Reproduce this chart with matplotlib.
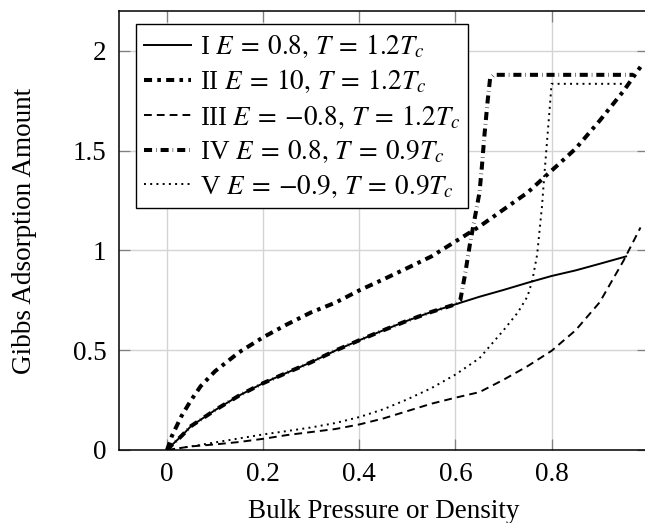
import matplotlib
matplotlib.use("Agg")
import matplotlib.pyplot as plt

plt.rcParams['font.family'] = ['Liberation Serif', 'DejaVu Serif']
plt.rcParams['mathtext.fontset'] = 'stix'

# Đường I: E = 0.8, T = 1.2Tc
x_1 = [0, 0.01, 0.03, 0.05, 0.1, 0.15, 0.2, 0.25, 0.3, 0.35, 0.4, 0.45, 0.5,
       0.55, 0.6, 0.65, 0.7, 0.75, 0.8, 0.85, 0.9, 0.955]
y_1 = [0, 0.025, 0.07, 0.12, 0.2, 0.273, 0.335, 0.388, 0.44, 0.498, 0.55, 0.6,
       0.648, 0.692, 0.73, 0.768, 0.802, 0.838, 0.872, 0.9, 0.933, 0.97]

# Đường II: E = 10, T = 1.2Tc
x_2 = [0, 0.01, 0.03, 0.05, 0.07, 0.1, 0.15, 0.2, 0.25, 0.3, 0.35, 0.4, 0.45,
       0.5, 0.55, 0.6, 0.65, 0.7, 0.75, 0.8, 0.85, 0.9, 0.95, 0.985]
y_2 = [0, 0.07, 0.17, 0.25, 0.32, 0.395, 0.49, 0.565, 0.63, 0.69, 0.738, 0.80,
       0.855, 0.912, 0.97, 1.045, 1.12, 1.205, 1.29, 1.40, 1.51, 1.65, 1.80, 1.92]

# Đường III: E = -0.8, T = 1.2Tc
x_3 = [0, 0.05, 0.1, 0.15, 0.2, 0.25, 0.3, 0.35, 0.4, 0.45, 0.5, 0.55, 0.6,
       0.65, 0.7, 0.75, 0.8, 0.85, 0.9, 0.95, 0.985]
y_3 = [0, 0.018, 0.028, 0.04, 0.056, 0.075, 0.09, 0.105, 0.128, 0.158, 0.195,
       0.232, 0.262, 0.29, 0.352, 0.42, 0.497, 0.6, 0.74, 0.95, 1.115]

# Đường IV: E = 0.8, T = 0.9Tc
x_4 = [0, 0.01, 0.03, 0.05, 0.1, 0.15, 0.2, 0.25, 0.3, 0.35, 0.4, 0.45, 0.5,
       0.55, 0.6, 0.61, 0.62, 0.63, 0.64, 0.65, 0.655, 0.66, 0.667, 0.672, 0.68, 0.97]
y_4 = [0, 0.025, 0.07, 0.12, 0.2, 0.273, 0.335, 0.388, 0.44, 0.498, 0.55, 0.6,
       0.648, 0.692, 0.73, 0.75, 0.88, 1.03, 1.16, 1.29, 1.42, 1.57, 1.75, 1.86, 1.88, 1.88]

# Đường V: E = -0.9, T = 0.9Tc
x_5 = [0, 0.05, 0.1, 0.15, 0.2, 0.25, 0.3, 0.35, 0.4, 0.45, 0.5, 0.55, 0.6,
       0.65, 0.7, 0.73, 0.75, 0.76, 0.77, 0.775, 0.78, 0.785, 0.79, 0.795, 0.80, 0.95]
y_5 = [0, 0.018, 0.038, 0.058, 0.078, 0.095, 0.113, 0.135, 0.165, 0.204, 0.254,
       0.31, 0.378, 0.46, 0.6, 0.69, 0.77, 0.85, 0.98, 1.1, 1.22, 1.38, 1.53,
       1.68, 1.835, 1.835]

nhan = [r'I $E\:=\:0.8,\,T\:=\:1.2T_c$',
        r'II $E\:=\:10,\,T\:=\:1.2T_c$',
        r'III $E\:=\:{-}0.8,\,T\:=\:1.2T_c$',
        r'IV $E\:=\:0.8,\,T\:=\:0.9T_c$',
        r'V $E\:=\:{-}0.9,\,T\:=\:0.9T_c$']

x_ticks = [0, 0.2, 0.4, 0.6, 0.8]
y_ticks = [0, 0.5, 1, 1.5, 2]
y_tick_labels = ['0', '0.5', '1', '1.5', '2']

fig = plt.figure(figsize=(6.45, 5.23), dpi=100)
ax = fig.add_axes([0.1845, 0.1396, 0.8197, 0.8394])

ax.plot(x_1, y_1, color='black', lw=1.4, label=nhan[0])
ax.plot(x_2, y_2, color='black', lw=2.9, dash_capstyle='butt',
        linestyle=(0, (2.0, 1.3, 0.9, 1.3)), label=nhan[1])
ax.plot(x_3, y_3, color='black', lw=1.4, dash_capstyle='butt',
        linestyle=(0, (4, 2.6)), label=nhan[2])
ax.plot(x_4, y_4, color='black', lw=2.9, dash_capstyle='butt',
        linestyle=(0, (2.0, 1.0, 0.12, 1.0)), label=nhan[3])
ax.plot(x_5, y_5, color='black', lw=1.4, dash_capstyle='butt',
        linestyle=(0, (1, 2.2)), label=nhan[4])

ax.set_xlim(-0.1, 1.0)
ax.set_ylim(0, 2.2)
ax.set_xticks(x_ticks)
ax.set_xticklabels(['0', '0.2', '0.4', '0.6', '0.8'])
ax.set_yticks(y_ticks)
ax.set_yticklabels(y_tick_labels)
ax.grid(True, color='#d4d4d4', lw=1.0)
ax.set_axisbelow(True)
ax.tick_params(direction='in', length=8, width=0.9, color='#808080',
               labelsize=19.5, top=True, right=True, pad=9)
for s in ax.spines.values():
    s.set_linewidth(1.1)

ax.set_xlabel('Bulk Pressure or Density', fontsize=19.5, labelpad=8)
ax.set_ylabel('Gibbs Adsorption Amount', fontsize=19.5, labelpad=26)

leg = ax.legend(loc='upper left', bbox_to_anchor=(0.032, 0.97), borderaxespad=0,
                fontsize=19.5, fancybox=False, framealpha=1, edgecolor='black',
                handlelength=1.75, handletextpad=0.3, labelspacing=0.28,
                borderpad=0.3)
leg.get_frame().set_linewidth(1.0)

fig.savefig('out.png', dpi=100)
